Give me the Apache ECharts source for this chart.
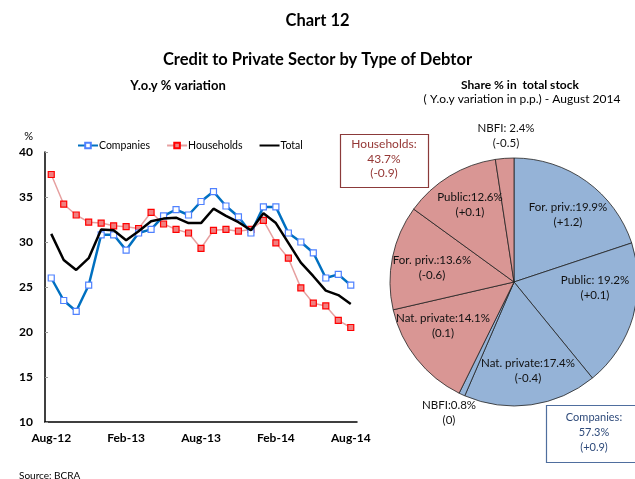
<!DOCTYPE html>
<html>
<head>
<meta charset="utf-8">
<script src="https://cdn.jsdelivr.net/npm/echarts@6/dist/echarts.min.js"></script>
<style>
html,body{margin:0;padding:0;background:#fff;}
#c{width:635px;height:479px;}
</style>
</head>
<body>
<div id="c"></div>
<script>
const months = ['Aug-12','Sep-12','Oct-12','Nov-12','Dec-12','Jan-13','Feb-13','Mar-13','Apr-13','May-13','Jun-13','Jul-13','Aug-13','Sep-13','Oct-13','Nov-13','Dec-13','Jan-14','Feb-14','Mar-14','Apr-14','May-14','Jun-14','Jul-14','Aug-14'];
const companies = [26.0,23.5,22.3,25.2,30.8,30.8,29.1,31.0,31.4,32.9,33.6,33.0,34.5,35.6,34.0,32.8,31.0,33.9,33.9,31.0,30.0,28.8,26.0,26.4,25.2];
const households = [37.5,34.2,33.0,32.2,32.1,31.8,31.7,31.5,33.3,32.0,31.4,31.0,29.3,31.3,31.4,31.2,31.4,32.4,29.9,28.2,24.9,23.2,22.9,21.3,20.5];
const total = [30.9,28.0,26.9,28.2,31.4,31.3,30.2,31.2,32.3,32.6,32.7,32.1,32.1,33.7,32.9,32.2,31.3,33.2,32.1,29.9,27.7,26.2,24.6,24.1,23.1];
const yTicks = [10,15,20,25,30,35,40];

const sliceNames = ['For. priv.','Public','Nat. private','NBFI','Nat. private','For. priv.','Public','NBFI'];
const sliceSep = [':',': ',':',':',':',':',':',': '];
const sliceShares = [19.9,19.2,17.4,0.8,14.1,13.6,12.6,2.4];
const sliceChanges = ['+1.2','+0.1','-0.4','0','0.1','-0.6','+0.1','-0.5'];
const sliceGroup = ['Companies','Companies','Companies','Companies','Households','Households','Households','Households'];
const groupLabels = ['Households:\n43.7%\n(-0.9)','Companies:\n57.3%\n(+0.9)'];

const labelPos = [[568,215],[595,288],[528,371],[449,413],[443,326],[432,268],[470,205],[506,136]];
const FONT = 'Lato';
const groupColor = {Companies:'#95B3D7', Households:'#D99694'};

const chart = echarts.init(document.getElementById('c'), null, {renderer:'canvas'});
chart.setOption({
  backgroundColor:'#fff',
  animation:false,
  textStyle:{fontFamily:FONT},
  title:[
    {text:'Chart 12', left:'center', top:7, textStyle:{fontFamily:FONT,fontSize:16.5,fontWeight:'bold',color:'#000'}},
    {text:'Credit to Private Sector by Type of Debtor', left:'center', top:46, textStyle:{fontFamily:FONT,fontSize:16.5,fontWeight:'bold',color:'#000'}},
    {text:'Y.o.y % variation', left:173, textAlign:'center', top:74, textStyle:{fontFamily:FONT,fontSize:13,fontWeight:'bold',color:'#000'}},
    {text:'Share % in  total stock', left:515, textAlign:'center', top:74, textStyle:{fontFamily:FONT,fontSize:12,fontWeight:'bold',color:'#000'}},
    {text:'( Y.o.y variation in p.p.) - August 2014', left:517, textAlign:'center', top:88, textStyle:{fontFamily:FONT,fontSize:12,fontWeight:'normal',color:'#000'}},
    {text:'Source: BCRA', left:14, top:466, textStyle:{fontFamily:FONT,fontSize:10,fontWeight:'normal',color:'#000'}}
  ],
  legend:{
    left:72, top:135, itemGap:16, itemWidth:20, itemHeight:7,
    textStyle:{fontFamily:FONT,fontSize:10.5,color:'#000',padding:[0,0,0,-4]},
    data:['Companies','Households',{name:'Total', itemStyle:{opacity:0}}]
  },
  grid:{left:45, right:278, top:152, bottom:57, containLabel:false},
  xAxis:{
    type:'category', data:months, boundaryGap:true,
    axisLine:{lineStyle:{color:'#000',width:1.5}},
    axisTick:{inside:true, interval:5, length:4, lineStyle:{color:'#999'}},
    axisLabel:{interval:5, fontFamily:FONT, fontSize:12, fontWeight:'bold', color:'#000', margin:10},
    splitLine:{show:false}
  },
  yAxis:{
    type:'value', min:10, max:40, interval:5,
    name:'%', nameLocation:'end', nameGap:10,
    nameTextStyle:{fontFamily:FONT,fontSize:11,color:'#000',align:'right',padding:[0,12,0,0]},
    axisLine:{show:true, lineStyle:{color:'#000',width:1.5}},
    axisTick:{show:true, inside:true, length:3, lineStyle:{color:'#999'}},
    axisLabel:{fontFamily:FONT,fontSize:12,fontWeight:'bold',color:'#000',margin:12,
      formatter:function(v){return yTicks.indexOf(v)>=0?String(v):'';}},
    splitLine:{show:false}
  },
  series:[
    {name:'Companies', type:'line', data:companies, symbol:'rect', symbolSize:6,
     lineStyle:{color:'#0070C0', width:2.5}, itemStyle:{color:'#fff', borderColor:'#4F81FF', borderWidth:1.2}, z:3},
    {name:'Households', type:'line', data:households, symbol:'rect', symbolSize:6,
     lineStyle:{color:'#E6A0A0', width:1.5}, itemStyle:{color:'#F08080', borderColor:'#FF0000', borderWidth:1.2}, z:2},
    {name:'Total', type:'line', data:total, symbol:'none',
     lineStyle:{color:'#000', width:2.5}, itemStyle:{color:'#000'}, z:4},
    {name:'Share', type:'pie', center:[514,282], radius:124, startAngle:90, clockwise:true,
     avoidLabelOverlap:false,
     itemStyle:{borderColor:'#222', borderWidth:0.8},
     label:{show:true, position:'inside', fontFamily:FONT, fontSize:11.5, color:'#111', lineHeight:15,
       formatter:function(p){const i=p.dataIndex; return sliceNames[i]+sliceSep[i]+sliceShares[i]+'%\n('+sliceChanges[i]+')';}},
     labelLine:{show:false},
     labelLayout:function(p){const q=labelPos[p.dataIndex]; return {x:q[0], y:q[1], align:'center', verticalAlign:'middle'};},
     emphasis:{disabled:true},
     data:sliceShares.map(function(v,i){return {value:v, name:sliceNames[i]+' '+i, itemStyle:{color:groupColor[sliceGroup[i]]}};})
    }
  ],
  graphic:[
    {type:'rect', shape:{x:340.5,y:134.5,width:88,height:53}, style:{fill:'#fff',stroke:'#8B3A3A',lineWidth:1.2}, z:10},
    {type:'text', x:384, y:137, style:{text:groupLabels[0], font:'12px '+FONT, fill:'#953735', textAlign:'center', lineHeight:14.5}, z:11},
    {type:'rect', shape:{x:546.5,y:405.5,width:95,height:57}, style:{fill:'#fff',stroke:'#4F6E9E',lineWidth:1.2}, z:10},
    {type:'text', x:594, y:410, style:{text:groupLabels[1], font:'11px '+FONT, fill:'#2E4A7A', textAlign:'center', lineHeight:15}, z:11}
  ]
});
</script>
</body>
</html>
